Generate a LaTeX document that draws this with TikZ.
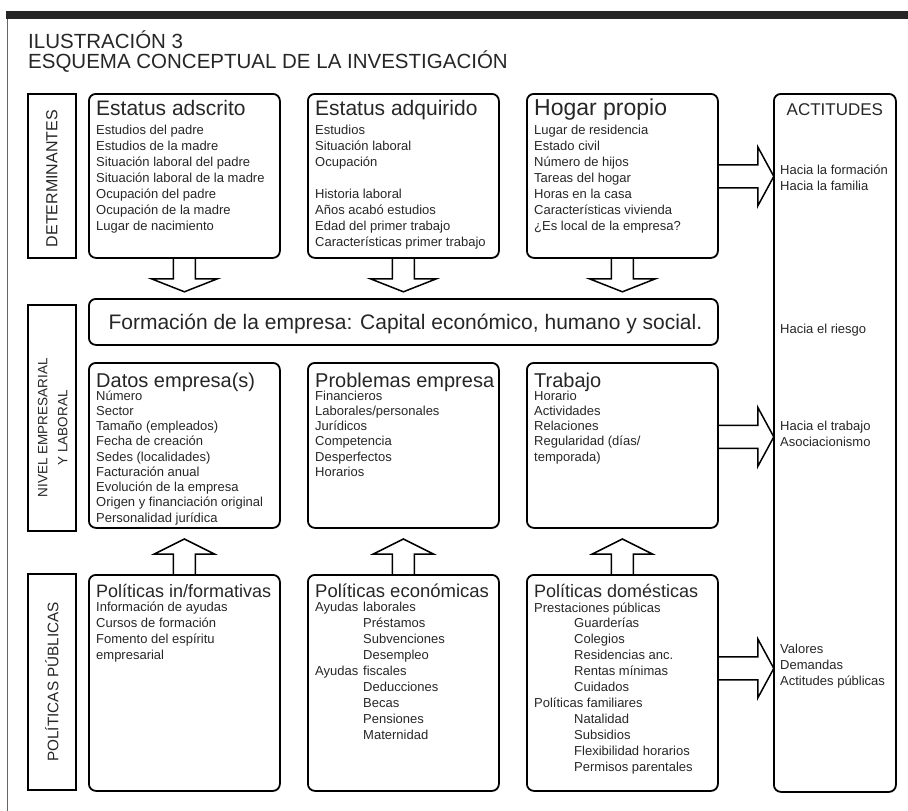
\documentclass[tikz,border=0pt]{standalone}
\usepackage{fontspec}
\setmainfont{Liberation Sans}
\usetikzlibrary{calc}

\tikzset{
  caja/.style={draw, line width=1.8pt, rounded corners=7pt, inner sep=0pt, anchor=north west, minimum width=191pt},
  lado/.style={draw, line width=1.5pt, inner sep=0pt, anchor=north west, minimum width=48pt},
  flecha/.style={draw, line width=1.5pt},
  titulo/.style={anchor=base west, inner sep=0pt, text=black!85},
  linea/.style={anchor=base west, inner sep=0pt, text=black!85, font=\fontsize{13}{15}\selectfont},
}

\begin{document}
\begin{tikzpicture}[x=1pt, y=-1pt]
\useasboundingbox (0,0) rectangle (908,811);

% marco y titulo
\fill[black!85] (6,11) rectangle (908,19);
\draw[black!60, line width=1pt] (7,19) -- (7,811);
\node[titulo, font=\fontsize{20.5}{20}\selectfont] (ilus) at (28,48) {ILUSTRACIÓN 3};
\node[titulo, font=\fontsize{20.5}{20}\selectfont] (esquema) at (28,68) {ESQUEMA CONCEPTUAL DE LA INVESTIGACIÓN};

% etiquetas laterales
\node[lado, minimum height=164pt] (det) at (27,93) {};
\node[lado, minimum height=226pt] (niv) at (27,304) {};
\node[lado, minimum height=216pt] (pol) at (27,573) {};
\node[rotate=90, text=black!85, font=\fontsize{16}{18}\selectfont] (det-t) at ($(det.center)+(0,3)$) {DETERMINANTES};
\node[rotate=90, text=black!85, align=center, font=\fontsize{13.5}{20}\selectfont] (niv-t) at ($(niv.center)+(1,10)$) {NIVEL EMPRESARIAL\\Y LABORAL};
\node[rotate=90, text=black!85, font=\fontsize{15.3}{18}\selectfont] (pol-t) at (pol.center) {POLÍTICAS PÚBLICAS};

% fila 1
\node[caja, minimum height=164pt] (adscrito) at (88,93) {};
\node[caja, minimum height=164pt] (adquirido) at (307,93) {};
\node[caja, minimum height=164pt] (hogar) at (526,93) {};
\node[titulo, font=\fontsize{21}{24}\selectfont] (adscrito-t) at ($(adscrito.north west)+(8,22)$) {Estatus adscrito};
\node[titulo, font=\fontsize{21}{24}\selectfont] (adquirido-t) at ($(adquirido.north west)+(8,22)$) {Estatus adquirido};
\node[titulo, font=\fontsize{23}{24}\selectfont] (hogar-t) at ($(hogar.north west)+(8,22)$) {Hogar propio};
\foreach \t [count=\i] in {Estudios del padre, Estudios de la madre, Situación laboral del padre,
    Situación laboral de la madre, Ocupación del padre, Ocupación de la madre, Lugar de nacimiento}
  \node[linea] (adscrito-\i) at ($(adscrito.north west)+(8,41+16*\i-16)$) {\t};
\foreach \t [count=\i] in {Estudios, Situación laboral, Ocupación, {}, Historia laboral,
    Años acabó estudios, Edad del primer trabajo, Características primer trabajo}
  \node[linea] (adquirido-\i) at ($(adquirido.north west)+(8,41+16*\i-16)$) {\t};
\foreach \t [count=\i] in {Lugar de residencia, Estado civil, Número de hijos, Tareas del hogar,
    Horas en la casa, Características vivienda, ¿Es local de la empresa?}
  \node[linea] (hogar-\i) at ($(hogar.north west)+(8,41+16*\i-16)$) {\t};

% formacion
\node[caja, minimum width=629pt, minimum height=46pt] (formacion) at (88,298) {};
\node[anchor=base, inner sep=0pt, text=black!85, font=\fontsize{21}{24}\selectfont] (formacion-t)
  at ($(formacion.south)+(2,-16)$) {Formación de la empresa: Capital económico, humano y social.};

% fila 2
\node[caja, minimum height=165pt] (datos) at (88,362) {};
\node[caja, minimum height=165pt] (problemas) at (307,362) {};
\node[caja, minimum height=165pt] (trabajo) at (526,362) {};
\node[titulo, font=\fontsize{20}{24}\selectfont] (datos-t) at ($(datos.north west)+(8,25)$) {Datos empresa(s)};
\node[titulo, font=\fontsize{20}{24}\selectfont] (problemas-t) at ($(problemas.north west)+(8,25)$) {Problemas empresa};
\node[titulo, font=\fontsize{20}{24}\selectfont] (trabajo-t) at ($(trabajo.north west)+(8,25)$) {Trabajo};
\foreach \t [count=\i] in {Número, Sector, Tamaño (empleados), Fecha de creación, Sedes (localidades),
    Facturación anual, Evolución de la empresa, Origen y financiación original, Personalidad jurídica}
  \node[linea] (datos-\i) at ($(datos.north west)+(8,38+15.25*\i-15.25)$) {\t};
\foreach \t [count=\i] in {Financieros, Laborales/personales, Jurídicos, Competencia, Desperfectos, Horarios}
  \node[linea] (problemas-\i) at ($(problemas.north west)+(8,38+15.25*\i-15.25)$) {\t};
\foreach \t [count=\i] in {Horario, Actividades, Relaciones, Regularidad (días/, temporada)}
  \node[linea] (trabajo-\i) at ($(trabajo.north west)+(8,38+15.25*\i-15.25)$) {\t};

% fila 3
\node[caja, minimum height=216pt] (informativas) at (88,574) {};
\node[caja, minimum height=216pt] (economicas) at (307,574) {};
\node[caja, minimum height=216pt] (domesticas) at (526,574) {};
\node[titulo, font=\fontsize{18}{20}\selectfont] (informativas-t) at ($(informativas.north west)+(8,23)$) {Políticas in/formativas};
\node[titulo, font=\fontsize{18.5}{20}\selectfont] (economicas-t) at ($(economicas.north west)+(8,23)$) {Políticas económicas};
\node[titulo, font=\fontsize{18}{20}\selectfont] (domesticas-t) at ($(domesticas.north west)+(8,23)$) {Políticas domésticas};
\foreach \t [count=\i] in {Información de ayudas, Cursos de formación, Fomento del espíritu, empresarial}
  \node[linea] (informativas-\i) at ($(informativas.north west)+(8,37+16*\i-16)$) {\t};
\foreach \t [count=\i] in {\makebox[48pt][l]{Ayudas}laborales, \hspace*{48pt}Préstamos, \hspace*{48pt}Subvenciones,
    \hspace*{48pt}Desempleo, \makebox[48pt][l]{Ayudas}fiscales, \hspace*{48pt}Deducciones,
    \hspace*{48pt}Becas, \hspace*{48pt}Pensiones, \hspace*{48pt}Maternidad}
  \node[linea] (economicas-\i) at ($(economicas.north west)+(8,37+16*\i-16)$) {\t};
\foreach \t [count=\i] in {Prestaciones públicas, \hspace*{40pt}Guarderías, \hspace*{40pt}Colegios,
    \hspace*{40pt}Residencias anc., \hspace*{40pt}Rentas mínimas, \hspace*{40pt}Cuidados, Políticas familiares,
    \hspace*{40pt}Natalidad, \hspace*{40pt}Subsidios, \hspace*{40pt}Flexibilidad horarios, \hspace*{40pt}Permisos parentales}
  \node[linea] (domesticas-\i) at ($(domesticas.north west)+(8,38+15.9*\i-15.9)$) {\t};

% actitudes
\node[caja, minimum width=122pt, minimum height=698pt] (actitudes) at (773,93) {};
\node[anchor=base, inner sep=0pt, text=black!85, font=\fontsize{17}{20}\selectfont] (actitudes-t)
  at ($(actitudes.north)+(0,22)$) {ACTITUDES};
\foreach \t/\y [count=\i] in {Hacia la formación/174, Hacia la familia/190, Hacia el riesgo/333,
    Hacia el trabajo/430, Asociacionismo/446, Valores/653, Demandas/669, Actitudes públicas/685}
  \node[linea] (actitudes-\i) at ($(actitudes.north west)+(7,\y-93)$) {\t};

% flechas
\foreach \b in {adscrito,adquirido,hogar}
  \draw[flecha] ($(\b.south)+(-11,0)$) -- ++(0,20) -- ++(-22,0) -- ++(33,13) -- ++(33,-13) -- ++(-22,0) -- ++(0,-20);
\foreach \b in {informativas,economicas,domesticas}
  \draw[flecha] ($(\b.north)+(-11,0)$) -- ++(0,-20) -- ++(-19,0) -- ++(30,-15) -- ++(30,15) -- ++(-19,0) -- ++(0,20);
\foreach \b/\d in {hogar/0.5, trabajo/-8.5, domesticas/-14.5}
  \draw[flecha] ($(\b.east)+(0,\d-11.5)$) -- ++(39,0) -- ++(0,-18) -- ++(16,29.5) -- ++(-16,29.5) -- ++(0,-18) -- ++(-39,0);
\end{tikzpicture}
\end{document}
